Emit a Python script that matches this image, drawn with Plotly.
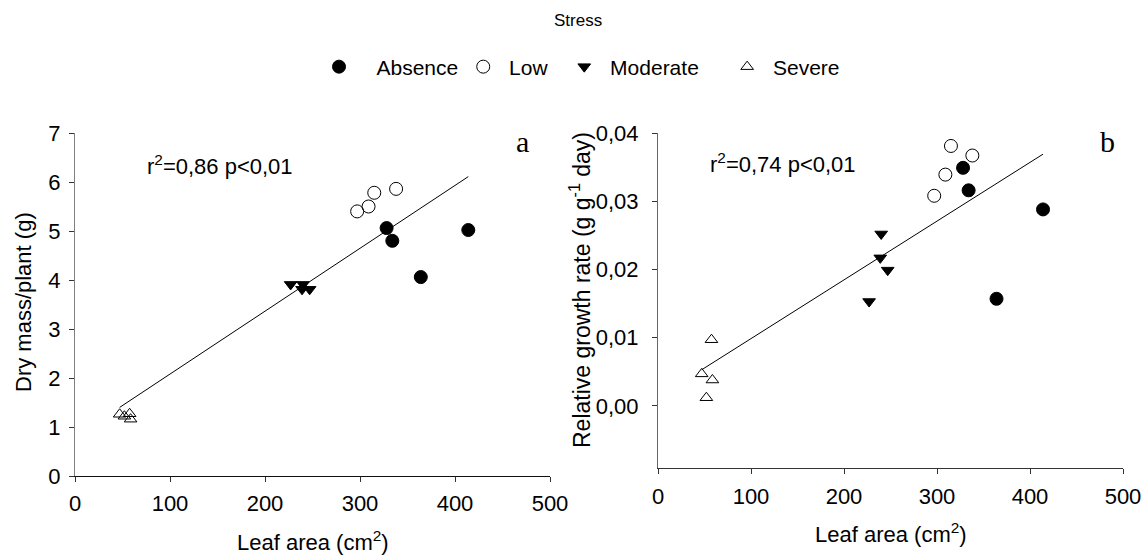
import plotly.graph_objects as go

# ---------------- data ----------------
groups = ["Absence", "Low", "Moderate", "Severe"]

leaf_absence = [328, 334, 364, 414]
leaf_low = [297, 309, 315, 338]
leaf_moderate = [227, 239, 240, 247]
leaf_severe = [47, 52, 57.5, 58.5]

dry_absence = [5.06, 4.80, 4.06, 5.02]
dry_low = [5.40, 5.50, 5.78, 5.86]
dry_moderate = [3.91, 3.81, 3.91, 3.81]
dry_severe = [1.26, 1.22, 1.27, 1.16]

rgr_absence = [0.0349, 0.0316, 0.0157, 0.0288]
rgr_low = [0.0308, 0.0339, 0.0381, 0.0367]
rgr_moderate = [0.0153, 0.0217, 0.0252, 0.0199]
rgr_severe = [0.0047, 0.0012, 0.0097, 0.0038]

fit_x = [47, 414]
fit_dry = [1.40, 6.11]
fit_rgr = [0.0053, 0.0369]

dry_ticks = [0, 1, 2, 3, 4, 5, 6, 7]
rgr_ticks = [0.00, 0.01, 0.02, 0.03, 0.04]
leaf_ticks = [0, 100, 200, 300, 400, 500]

# ---------------- styles ----------------
FONT = "Liberation Sans, Arial, sans-serif"
SERIF = "Liberation Serif, Times New Roman, serif"
NB = "\u00a0"
legend_names = {
    "Absence": NB * 3 + "Absence",
    "Low": NB + "Low" + NB * 2,
    "Moderate": NB + "Moderate" + NB * 4,
    "Severe": NB + "Severe",
}
styles = {
    "Absence": dict(symbol="circle", size=13, color="black", line=dict(color="black", width=1)),
    "Low": dict(symbol="circle-open", size=13, color="black", line=dict(color="black", width=1)),
    "Moderate": dict(symbol="triangle-down", size=11, color="black", line=dict(color="black", width=1)),
    "Severe": dict(symbol="triangle-up-open", size=11, color="black", line=dict(color="black", width=1)),
}

left = {"Absence": (leaf_absence, dry_absence), "Low": (leaf_low, dry_low),
        "Moderate": (leaf_moderate, dry_moderate), "Severe": (leaf_severe, dry_severe)}
right = {"Absence": (leaf_absence, rgr_absence), "Low": (leaf_low, rgr_low),
         "Moderate": (leaf_moderate, rgr_moderate), "Severe": (leaf_severe, rgr_severe)}

fig = go.Figure()

fig.add_trace(go.Scatter(x=fit_x, y=fit_dry, mode="lines", line=dict(color="black", width=1),
                         showlegend=False, xaxis="x", yaxis="y", hoverinfo="skip"))
fig.add_trace(go.Scatter(x=fit_x, y=fit_rgr, mode="lines", line=dict(color="black", width=1),
                         showlegend=False, xaxis="x2", yaxis="y2", hoverinfo="skip"))

for g in groups:
    xs, ys = left[g]
    fig.add_trace(go.Scatter(x=xs, y=ys, mode="markers", name=legend_names[g], legendgroup=g,
                             marker=styles[g], showlegend=True, xaxis="x", yaxis="y"))
for g in groups:
    xs, ys = right[g]
    fig.add_trace(go.Scatter(x=xs, y=ys, mode="markers", name=legend_names[g], legendgroup=g,
                             marker=styles[g], showlegend=False, xaxis="x2", yaxis="y2"))

W, H = 1147, 556

def px_x(p):
    return p / W

def px_y(p):
    return 1 - p / H

axis_common = dict(showgrid=False, zeroline=False, showline=True, linewidth=1,
                   ticks="outside", ticklen=5, tickwidth=1, tickcolor="#333",
                   automargin=False,
                   tickfont=dict(family=FONT, size=22, color="black"))

def note(text, x, y, size=22, family=FONT, angle=0, xanchor="center"):
    return dict(text=text, x=px_x(x), y=px_y(y), xref="paper", yref="paper",
                xanchor=xanchor, yanchor="middle", textangle=angle, showarrow=False,
                font=dict(family=family, size=size, color="black"))

fig.update_layout(
    width=W, height=H,
    margin=dict(l=0, r=0, t=0, b=0, autoexpand=False),
    paper_bgcolor="white", plot_bgcolor="white",
    separators=",.",
    font=dict(family=FONT, size=22, color="black"),
    xaxis=dict(domain=[px_x(75), px_x(550)], range=[0, 500], tickvals=leaf_ticks,
               linecolor="#111", anchor="y", ticklabelstandoff=3, **axis_common),
    yaxis=dict(domain=[px_y(476), px_y(133)], range=[0, 7], tickvals=dry_ticks,
               linecolor="#808080", anchor="x", ticklabelstandoff=4, **axis_common),
    xaxis2=dict(domain=[px_x(658), px_x(1123)], range=[0, 500], tickvals=leaf_ticks,
                linecolor="#333", anchor="y2", ticklabelstandoff=4, **axis_common),
    yaxis2=dict(domain=[px_y(468), px_y(133)], range=[-0.0091, 0.04], tickvals=rgr_ticks,
                tickformat=".2f", linecolor="#666", anchor="x2", ticklabelstandoff=9, **axis_common),
    legend=dict(orientation="h", x=px_x(582), xanchor="center", y=px_y(67), yanchor="middle",
                font=dict(family=FONT, size=21, color="black"), bgcolor="rgba(0,0,0,0)",
                itemclick=False, itemdoubleclick=False),
    annotations=[
        note("Stress", 578, 20, size=17),
        note("Leaf area (cm<sup>2</sup>)", 313, 541),
        note("Leaf area (cm<sup>2</sup>)", 891, 533),
        note("Dry mass/plant (g)", 23, 302, angle=-90),
        note("Relative growth rate (g g<sup>-1</sup> day)", 580, 290, size=23, angle=-90),
        note("r<sup>2</sup>=0,86 p<0,01", 145, 165, xanchor="left"),
        note("r<sup>2</sup>=0,74 p<0,01", 708, 163, xanchor="left"),
        note("a", 522, 142, size=30, family=SERIF),
        note("b", 1107, 142, size=30, family=SERIF),
    ],
)

fig.write_html("out.html", config={"displayModeBar": False},
               post_script="document.body.style.margin='0px';")
